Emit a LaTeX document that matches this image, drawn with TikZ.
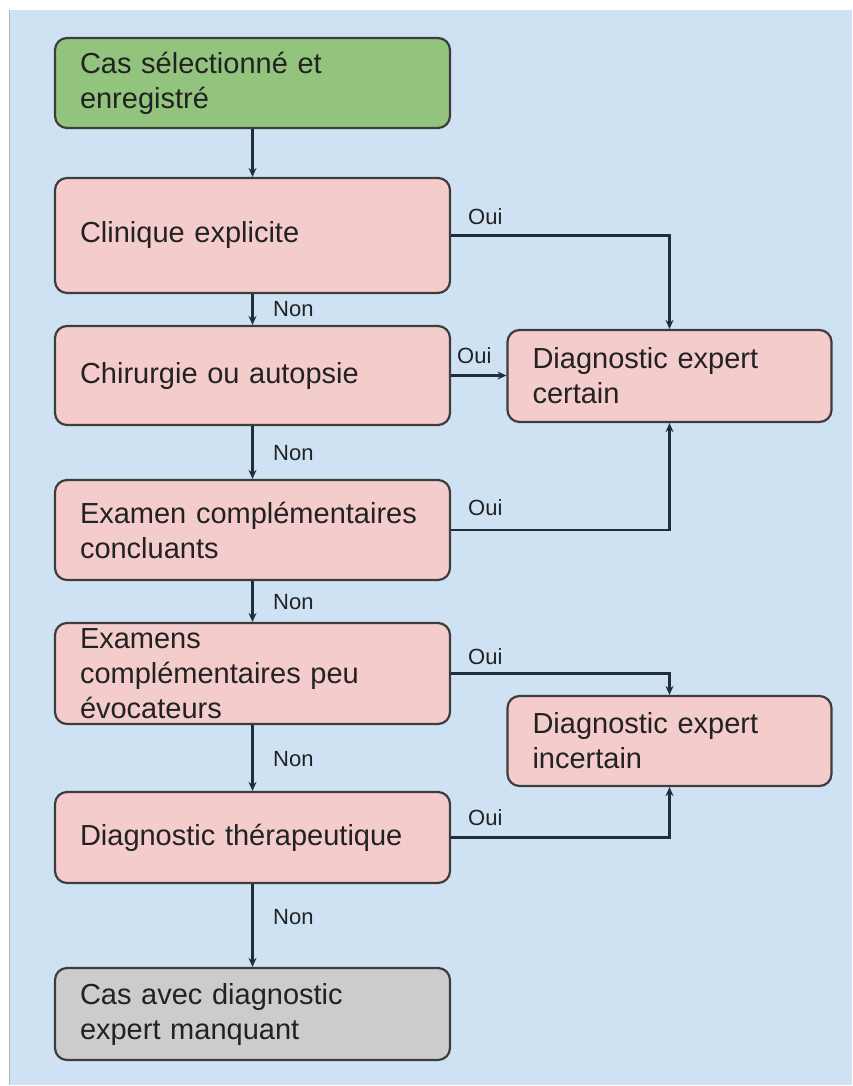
\documentclass[tikz,border=0pt]{standalone}
\usepackage{fontspec}
\setmainfont{Liberation Sans}
\usetikzlibrary{arrows.meta}
\definecolor{bgblue}{HTML}{CFE2F3}
\definecolor{boxgreen}{HTML}{93C47D}
\definecolor{boxpink}{HTML}{F4CCCC}
\definecolor{boxgray}{HTML}{CCCCCC}
\definecolor{edgecol}{HTML}{3D3D3D}
\definecolor{linecol}{HTML}{1F2D3D}
\definecolor{txtcol}{HTML}{222222}
\tikzset{
  flowbox/.style={draw=edgecol, line width=2.2pt, rounded corners=12pt,
    inner xsep=25pt, inner ysep=0pt, align=left, text=txtcol,
    font=\fontsize{29}{35}\selectfont},
  leftbox/.style={flowbox, text width=345pt, minimum width=395pt},
  rightbox/.style={flowbox, text width=274pt, minimum width=324pt},
  conn/.style={draw=linecol, line width=2.2pt, -{Stealth[length=9pt,width=8pt]}},
  lab/.style={anchor=west, inner sep=0pt, text=txtcol, font=\fontsize{22}{26}\selectfont}
}
\begin{document}
\begin{tikzpicture}[x=1pt,y=-1pt]
\useasboundingbox (0,0) rectangle (852,1086);
\fill[white] (0,0) rectangle (852,1086);
\fill[bgblue] (9,10) rectangle (852,1085);
\draw[gray!60, line width=1pt] (9,10) -- (9,1085);

\node[leftbox, fill=boxgreen, minimum height=90pt] (b1) at (252.5,83) {Cas sélectionné et\\enregistré};
\node[leftbox, fill=boxpink, minimum height=115pt] (b2) at (252.5,235.5) {Clinique explicite};
\node[leftbox, fill=boxpink, minimum height=99pt] (b3) at (252.5,375.5) {Chirurgie ou autopsie};
\node[leftbox, fill=boxpink, minimum height=100pt] (b4) at (252.5,530) {Examen complémentaires\\concluants};
\node[leftbox, fill=boxpink, minimum height=101pt] (b5) at (252.5,673.5) {Examens\\complémentaires peu\\évocateurs};
\node[leftbox, fill=boxpink, minimum height=91pt] (b6) at (252.5,837.5) {Diagnostic thérapeutique};
\node[leftbox, fill=boxgray, minimum height=92pt] (b7) at (252.5,1014) {Cas avec diagnostic\\expert manquant};
\node[rightbox, fill=boxpink, minimum height=92pt] (ra) at (669.5,376) {Diagnostic expert\\certain};
\node[rightbox, fill=boxpink, minimum height=90pt] (rb) at (669.5,741) {Diagnostic expert\\incertain};

\draw[conn] (b1.south) -- (b2.north);
\draw[conn] (b2.south) -- (b3.north);
\draw[conn] (b3.south) -- (b4.north);
\draw[conn] (b4.south) -- (b5.north);
\draw[conn] (b5.south) -- (b6.north);
\draw[conn] (b6.south) -- (b7.north);

\draw[conn] (b2.east) -| (ra.north);
\draw[conn] (b3.east) -- (b3.east -| ra.west);
\draw[conn] (b4.east) -| (ra.south);
\draw[conn] (b5.east) -| (rb.north);
\draw[conn] (b6.east) -| (rb.south);

\node[lab] (n1) at (273,309) {Non};
\node[lab] (n2) at (273,453) {Non};
\node[lab] (n3) at (273,602) {Non};
\node[lab] (n4) at (273,759) {Non};
\node[lab] (n5) at (273,917) {Non};

\node[lab] (o1) at (468,217) {Oui};
\node[lab] (o2) at (457,356) {Oui};
\node[lab] (o3) at (468,508) {Oui};
\node[lab] (o4) at (468,657) {Oui};
\node[lab] (o5) at (468,818) {Oui};
\end{tikzpicture}
\end{document}
